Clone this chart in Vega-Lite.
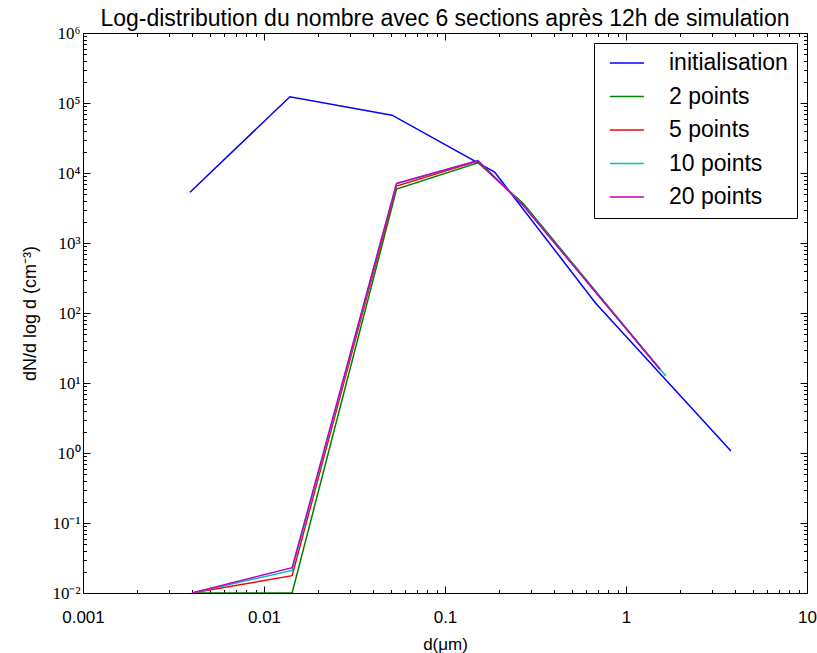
{
  "$schema": "https://vega.github.io/schema/vega-lite/v6.json",
  "autosize": {"type": "none"},
  "width": 724,
  "height": 560,
  "padding": {"left": 83, "top": 33, "right": 10, "bottom": 60},
  "background": "white",
  "config": {
    "view": {"stroke": "black", "strokeWidth": 1},
    "axis": {"grid": false, "domain": false, "tickColor": "black", "labelColor": "black", "titleColor": "black", "titleFontWeight": "normal", "labelOverlap": false, "labelFlush": false, "tickWidth": 1, "tickSize": -7}
  },
  "title": {"text": "Log-distribution du nombre avec 6 sections après 12h de simulation", "font": "Liberation Sans", "fontSize": 23, "fontWeight": "normal", "color": "black", "offset": -7, "anchor": "middle"},
  "datasets": {
    "curves": [
      {"serie": "initialisation", "d": 0.0039, "n": 5300},
      {"serie": "initialisation", "d": 0.0139, "n": 123000},
      {"serie": "initialisation", "d": 0.051, "n": 67000},
      {"serie": "initialisation", "d": 0.188, "n": 10300},
      {"serie": "initialisation", "d": 0.68, "n": 138},
      {"serie": "initialisation", "d": 3.8, "n": 1.07},
      {"serie": "2 points", "d": 0.004, "n": 0.01},
      {"serie": "2 points", "d": 0.0143, "n": 0.01},
      {"serie": "2 points", "d": 0.054, "n": 5900},
      {"serie": "2 points", "d": 0.152, "n": 14000},
      {"serie": "2 points", "d": 0.27, "n": 3700},
      {"serie": "2 points", "d": 1.55, "n": 15.5},
      {"serie": "5 points", "d": 0.004, "n": 0.01},
      {"serie": "5 points", "d": 0.0143, "n": 0.0177},
      {"serie": "5 points", "d": 0.054, "n": 6500},
      {"serie": "5 points", "d": 0.152, "n": 14800},
      {"serie": "5 points", "d": 0.27, "n": 3500},
      {"serie": "5 points", "d": 1.54, "n": 15.7},
      {"serie": "10 points", "d": 0.004, "n": 0.01},
      {"serie": "10 points", "d": 0.0143, "n": 0.021},
      {"serie": "10 points", "d": 0.054, "n": 7000},
      {"serie": "10 points", "d": 0.152, "n": 15000},
      {"serie": "10 points", "d": 0.27, "n": 3500},
      {"serie": "10 points", "d": 1.66, "n": 12.6},
      {"serie": "20 points", "d": 0.004, "n": 0.01},
      {"serie": "20 points", "d": 0.0143, "n": 0.023},
      {"serie": "20 points", "d": 0.054, "n": 7130},
      {"serie": "20 points", "d": 0.152, "n": 15000},
      {"serie": "20 points", "d": 0.27, "n": 3450},
      {"serie": "20 points", "d": 1.54, "n": 15.7}
    ]
  },
  "data": {"name": "curves"},
  "layer": [
    {
      "mark": {"type": "line", "clip": true, "strokeWidth": 1.5},
      "encoding": {
        "x": {"field": "d", "type": "quantitative",
          "scale": {"type": "log", "domain": [0.001, 10], "nice": false},
          "axis": {"orient": "bottom",
            "values": [0.001,0.002,0.003,0.004,0.005,0.006,0.007,0.008,0.009,0.01,0.02,0.03,0.04,0.05,0.06,0.07,0.08,0.09,0.1,0.2,0.3,0.4,0.5,0.6,0.7,0.8,0.9,1,2,3,4,5,6,7,8,9,10],
            "labelExpr": "abs(log(datum.value)/LN10 - round(log(datum.value)/LN10)) < 0.000001 ? toString(datum.value) : ''",
            "tickSize": {"condition": {"test": "abs(log(datum.value)/LN10 - round(log(datum.value)/LN10)) < 0.000001", "value": -7}, "value": -3.5},
            "labelFont": "Liberation Sans", "labelFontSize": 17, "labelPadding": 23,
            "title": "d(μm)", "titleFont": "Liberation Sans", "titleFontSize": 17, "titlePadding": 8}},
        "y": {"field": "n", "type": "quantitative",
          "scale": {"type": "log", "domain": [0.01, 1000000], "nice": false},
          "axis": {"orient": "left",
            "values": [0.01,0.02,0.03,0.04,0.05,0.06,0.07,0.08,0.09,0.1,0.2,0.3,0.4,0.5,0.6,0.7,0.8,0.9,1,2,3,4,5,6,7,8,9,10,20,30,40,50,60,70,80,90,100,200,300,400,500,600,700,800,900,1000,2000,3000,4000,5000,6000,7000,8000,9000,10000,20000,30000,40000,50000,60000,70000,80000,90000,100000,200000,300000,400000,500000,600000,700000,800000,900000,1000000],
            "labelExpr": "abs(log(datum.value)/LN10 - round(log(datum.value)/LN10)) < 0.000001 ? (round(log(datum.value)/LN10) == -2 ? '10⁻²' : round(log(datum.value)/LN10) == -1 ? '10⁻¹' : round(log(datum.value)/LN10) == 0 ? '10⁰' : round(log(datum.value)/LN10) == 1 ? '10¹' : round(log(datum.value)/LN10) == 2 ? '10²' : round(log(datum.value)/LN10) == 3 ? '10³' : round(log(datum.value)/LN10) == 4 ? '10⁴' : round(log(datum.value)/LN10) == 5 ? '10⁵' : '10⁶') : ''",
            "tickSize": {"condition": {"test": "abs(log(datum.value)/LN10 - round(log(datum.value)/LN10)) < 0.000001", "value": -7}, "value": -3.5},
            "labelFont": "Liberation Serif", "labelFontSize": 17, "labelPadding": 10,
            "title": "dN/d log d (cm⁻³)", "titleFont": "Liberation Sans", "titleFontSize": 18, "titlePadding": 12}},
        "color": {"field": "serie", "type": "nominal",
          "scale": {"domain": ["initialisation", "2 points", "5 points", "10 points", "20 points"], "range": ["#0000ff", "#008000", "#ff0000", "#00bfbf", "#bf00bf"]},
          "legend": {"title": null, "orient": "top-right", "offset": 10, "fillColor": "white", "strokeColor": "black", "cornerRadius": 0, "padding": 8.5,
            "symbolType": "M-2,0H2", "symbolSize": 289, "symbolStrokeWidth": 1.5, "symbolOffset": 12.9, "labelOffset": 30.6,
            "labelFont": "Liberation Sans", "labelFontSize": 23, "labelColor": "black", "rowPadding": 9.5, "labelLimit": 300}}
      }
    },
    {
      "mark": {"type": "line", "clip": true, "opacity": 0},
      "encoding": {
        "x": {"field": "d", "type": "quantitative",
          "scale": {"type": "log", "domain": [0.001, 10], "nice": false},
          "axis": {"orient": "top", "labels": false, "title": null,
            "values": [0.001,0.002,0.003,0.004,0.005,0.006,0.007,0.008,0.009,0.01,0.02,0.03,0.04,0.05,0.06,0.07,0.08,0.09,0.1,0.2,0.3,0.4,0.5,0.6,0.7,0.8,0.9,1,2,3,4,5,6,7,8,9,10],
            "tickSize": {"condition": {"test": "abs(log(datum.value)/LN10 - round(log(datum.value)/LN10)) < 0.000001", "value": -7}, "value": -3.5}}},
        "y": {"field": "n", "type": "quantitative",
          "scale": {"type": "log", "domain": [0.01, 1000000], "nice": false},
          "axis": {"orient": "right", "labels": false, "title": null,
            "values": [0.01,0.02,0.03,0.04,0.05,0.06,0.07,0.08,0.09,0.1,0.2,0.3,0.4,0.5,0.6,0.7,0.8,0.9,1,2,3,4,5,6,7,8,9,10,20,30,40,50,60,70,80,90,100,200,300,400,500,600,700,800,900,1000,2000,3000,4000,5000,6000,7000,8000,9000,10000,20000,30000,40000,50000,60000,70000,80000,90000,100000,200000,300000,400000,500000,600000,700000,800000,900000,1000000],
            "tickSize": {"condition": {"test": "abs(log(datum.value)/LN10 - round(log(datum.value)/LN10)) < 0.000001", "value": -7}, "value": -3.5}}},
        "detail": {"field": "serie", "type": "nominal"}
      }
    }
  ],
  "resolve": {"axis": {"x": "independent", "y": "independent"}}
}
